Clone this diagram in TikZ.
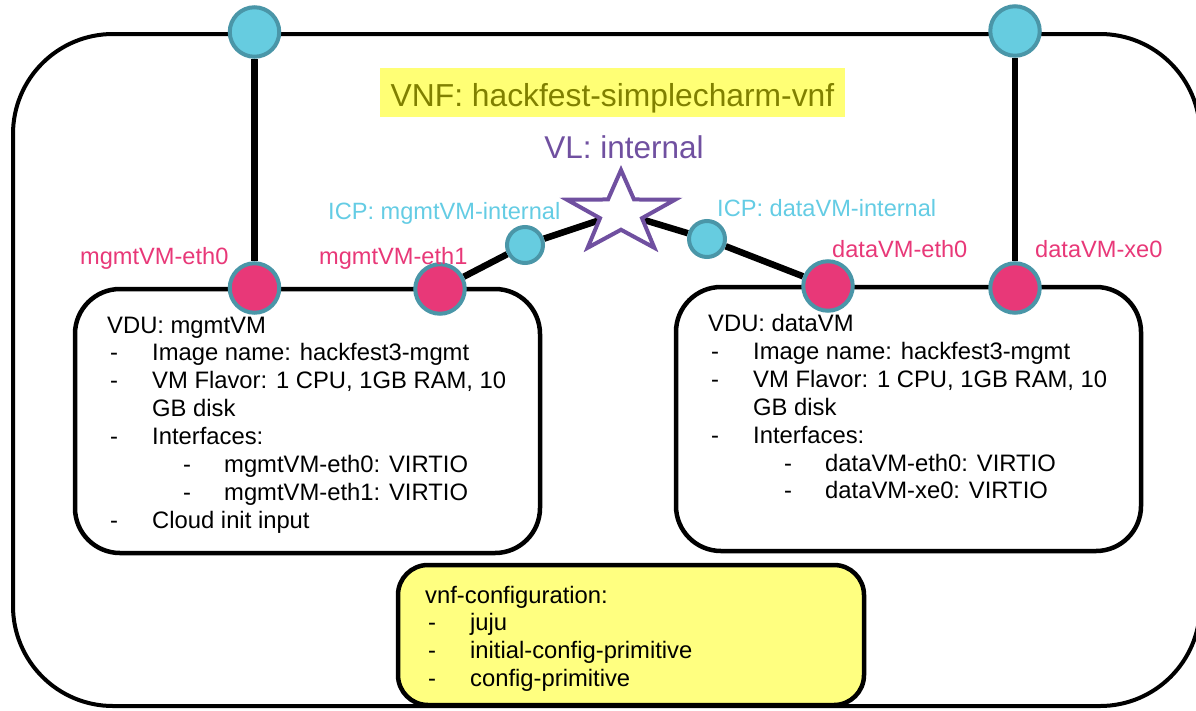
\documentclass[tikz,border=0pt]{standalone}
\usepackage{fontspec}
\setmainfont{Liberation Sans}
\usetikzlibrary{shapes.geometric,backgrounds}

\definecolor{cpblue}{RGB}{102,204,224}
\definecolor{ringteal}{RGB}{74,150,168}
\definecolor{ifpink}{RGB}{232,56,120}
\definecolor{icptext}{RGB}{100,204,228}
\definecolor{vlpurple}{RGB}{112,80,160}
\definecolor{titleolive}{RGB}{128,128,0}
\definecolor{hlyellow}{RGB}{255,255,117}
\definecolor{cfgyellow}{RGB}{255,255,128}

\newcommand{\vduitem}[1]{\hspace*{3pt}\makebox[42pt][l]{-}#1}
\newcommand{\vdusubitem}[1]{\hspace*{76pt}\makebox[41pt][l]{-}#1}

\tikzset{
    port/.style = {circle, draw=ringteal, line width=4pt, minimum size=49.5pt, inner sep=0pt},
    extcp/.style = {port, fill=cpblue},
    vduif/.style = {port, fill=ifpink},
    icp/.style = {port, fill=cpblue, minimum size=36pt},
    link/.style = {line width=6.5pt},
    vdubox/.style = {draw, line width=4.5pt, rounded corners=45pt, minimum width=465pt,
        minimum height=264pt, anchor=north west, inner sep=0pt, outer sep=0pt},
    listtext/.style = {font=\fontsize{23.8}{27.9}\selectfont, inner sep=0pt, anchor=base west},
    iflabel/.style = {text=ifpink, font=\fontsize{23.6}{28}\selectfont, inner sep=0pt, anchor=base west},
    icplabel/.style = {text=icptext, font=\fontsize{23.6}{28}\selectfont, inner sep=0pt, anchor=base west}
}

\begin{document}
\begin{tikzpicture}[x=1pt, y=-1pt]
    \useasboundingbox (0, 0) rectangle (1196, 710);

    % VNF frame and title
    \node [draw, line width=4pt, rounded corners=100pt, minimum width=1187pt, minimum height=672pt,
        anchor=north west, inner sep=0pt, outer sep=0pt] (vnf) at (13, 34) {};
    \node [fill=hlyellow, text=titleolive, font=\fontsize{31.8}{36}\selectfont, minimum width=465pt,
        text height=38pt, text depth=11pt, inner sep=0pt, anchor=base] (title) at (612.5, 106)
        {VNF: hackfest-simplecharm-vnf};

    % VDUs
    \node [vdubox] (mgmtvdu) at (75, 289) {};
    \node [vdubox] (datavdu) at (676, 287) {};
    \node [listtext] (mgmttext) at ([xshift=32pt, yshift=-44pt] mgmtvdu.north west)
        {\begin{tabular}[t]{@{}l@{}}
         VDU: mgmtVM\\
         \vduitem{Image name: hackfest3-mgmt}\\
         \vduitem{VM Flavor: 1 CPU, 1GB RAM, 10}\\
         \hspace*{45pt}GB disk\\
         \vduitem{Interfaces:}\\
         \vdusubitem{mgmtVM-eth0: VIRTIO}\\
         \vdusubitem{mgmtVM-eth1: VIRTIO}\\
         \vduitem{Cloud init input}
         \end{tabular}};
    \node [listtext] (datatext) at ([xshift=32pt, yshift=-44.5pt] datavdu.north west)
        {\begin{tabular}[t]{@{}l@{}}
         VDU: dataVM\\
         \vduitem{Image name: hackfest3-mgmt}\\
         \vduitem{VM Flavor: 1 CPU, 1GB RAM, 10}\\
         \hspace*{45pt}GB disk\\
         \vduitem{Interfaces:}\\
         \vdusubitem{dataVM-eth0: VIRTIO}\\
         \vdusubitem{dataVM-xe0: VIRTIO}
         \end{tabular}};

    % vnf-configuration
    \node [draw, fill=cfgyellow, line width=4.5pt, rounded corners=30pt, minimum width=466pt,
        minimum height=140pt, anchor=north west, inner sep=0pt, outer sep=0pt] (cfg) at (398, 565) {};
    \node [listtext] (cfgtext) at ([xshift=27pt, yshift=-38pt] cfg.north west)
        {\begin{tabular}[t]{@{}l@{}}
         vnf-configuration:\\
         \vduitem{juju}\\
         \vduitem{initial-config-primitive}\\
         \vduitem{config-primitive}
         \end{tabular}};

    % connection points
    \node [extcp] (mgmtcp) at (254.5, 32) {};
    \node [extcp] (datacp) at (1015, 31) {};
    \node [vduif] (mgmteth0) at (254.5, 288) {};
    \node [vduif] (mgmteth1) at (440, 289) {};
    \node [vduif] (dataeth0) at (828, 286) {};
    \node [vduif] (dataxe0) at (1015, 288) {};
    \node [icp] (mgmticp) at (525, 245) {};
    \node [icp] (dataicp) at (707, 239) {};

    % internal VL
    \node [star, star points=5, star point ratio=2.57, minimum size=86pt, inner sep=0pt,
        draw=vlpurple, fill=white, line width=4pt, xscale=1.32] (vl) at (621, 213) {};
    \node [text=vlpurple, font=\fontsize{31.5}{36}\selectfont, inner sep=0pt, anchor=base]
        (vltext) at (624, 158) {VL: internal};

    % labels
    \node [iflabel] at (80, 264) {mgmtVM-eth0};
    \node [iflabel] at (319, 264) {mgmtVM-eth1};
    \node [iflabel] at (832, 257) {dataVM-eth0};
    \node [iflabel] at (1035, 257) {dataVM-xe0};
    \node [icplabel] at (328, 219) {ICP: mgmtVM-internal};
    \node [icplabel] at (717, 216) {ICP: dataVM-internal};

    \begin{scope}[on background layer]
        \draw [link] (mgmtcp) -- (mgmteth0);
        \draw [link] (datacp) -- (dataxe0);
        \draw [link] (mgmteth1) -- (mgmticp);
        \draw [link] (mgmticp) -- (vl.center);
        \draw [link] (vl.center) -- (dataicp);
        \draw [link] (dataicp) -- (dataeth0);
    \end{scope}

\end{tikzpicture}
\end{document}
